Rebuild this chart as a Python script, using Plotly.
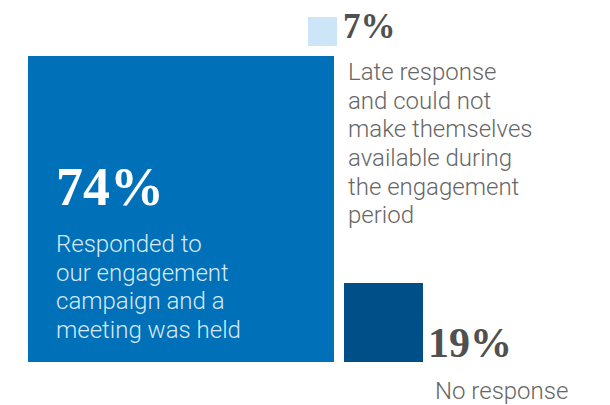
import plotly.graph_objects as go

# Data
values = [74, 7, 19]
pct_text = ["74%", "7%", "19%"]
colors = ["#0070b8", "#cce6f7", "#004f88"]
desc_big = ["Responded to", "our engagement", "campaign and a", "meeting was held"]
desc_late = ["Late response", "and could not", "make themselves", "available during",
             "the engagement", "period"]
desc_none = ["No response"]

PAGE_W, PAGE_H = 610, 405
OFF = 8                      # default page margin around the figure
K = 4.14                     # pixels per percentage unit (square side proportional to value)

def dx(px):
    return px / K

def dy(py):
    return (PAGE_H - py) / K

# layout anchors (page pixels)
big_x0, big_bottom = 28, 362
light_x0, light_top = 308, 17
dark_x0, dark_bottom = 344, 362

bases = [dy(big_bottom), dy(light_top) - values[1], dy(dark_bottom)]
x0s = [dx(big_x0), dx(light_x0), dx(dark_x0)]
centers = [x0 + v / 2 for x0, v in zip(x0s, values)]

fig = go.Figure(go.Bar(
    x=centers, y=values, base=bases, width=values,
    marker=dict(color=colors, line=dict(width=0)),
    hoverinfo="skip", showlegend=False,
))

pct_font = "Liberation Serif"
body_font = "Roboto"
LH = 28.7
BODY = 24

ann = []

def add(x, baseline, text, size, family, color, bold=False, weight=None):
    f = dict(family=family, size=size, color=color)
    if weight:
        f["weight"] = weight
    ann.append(dict(x=dx(x), y=dy(baseline - 0.34 * size),
                    text=f"<b>{text}</b>" if bold else text,
                    xanchor="left", yanchor="middle", align="left", font=f))

# 74%
add(54, 205, pct_text[0], 54, pct_font, "#ffffff", bold=True)
for i, line in enumerate(desc_big):
    add(54, 252 + i * LH, line, BODY, body_font, "#d6eaf7", weight=300)
# 7%
add(341, 38, pct_text[1], 35, pct_font, "#505050", bold=True)
for i, line in enumerate(desc_late):
    add(346, 80 + i * LH, line, BODY, body_font, "#666666", weight=300)
# 19%
add(426, 357, pct_text[2], 42, pct_font, "#505050", bold=True)
for i, line in enumerate(desc_none):
    add(433, 399 + i * LH, line, BODY, body_font, "#666666", weight=300)

for a in ann:
    a.update(xref="x", yref="y", showarrow=False)

fig.update_layout(
    width=PAGE_W - OFF, height=PAGE_H - OFF,
    margin=dict(l=0, r=0, t=0, b=0),
    paper_bgcolor="white", plot_bgcolor="white",
    xaxis=dict(range=[dx(OFF), dx(PAGE_W)], visible=False, fixedrange=True),
    yaxis=dict(range=[dy(PAGE_H), dy(OFF)], visible=False, fixedrange=True),
    annotations=ann,
    bargap=0,
)

fig.write_html("out.html", config={"displayModeBar": False})
